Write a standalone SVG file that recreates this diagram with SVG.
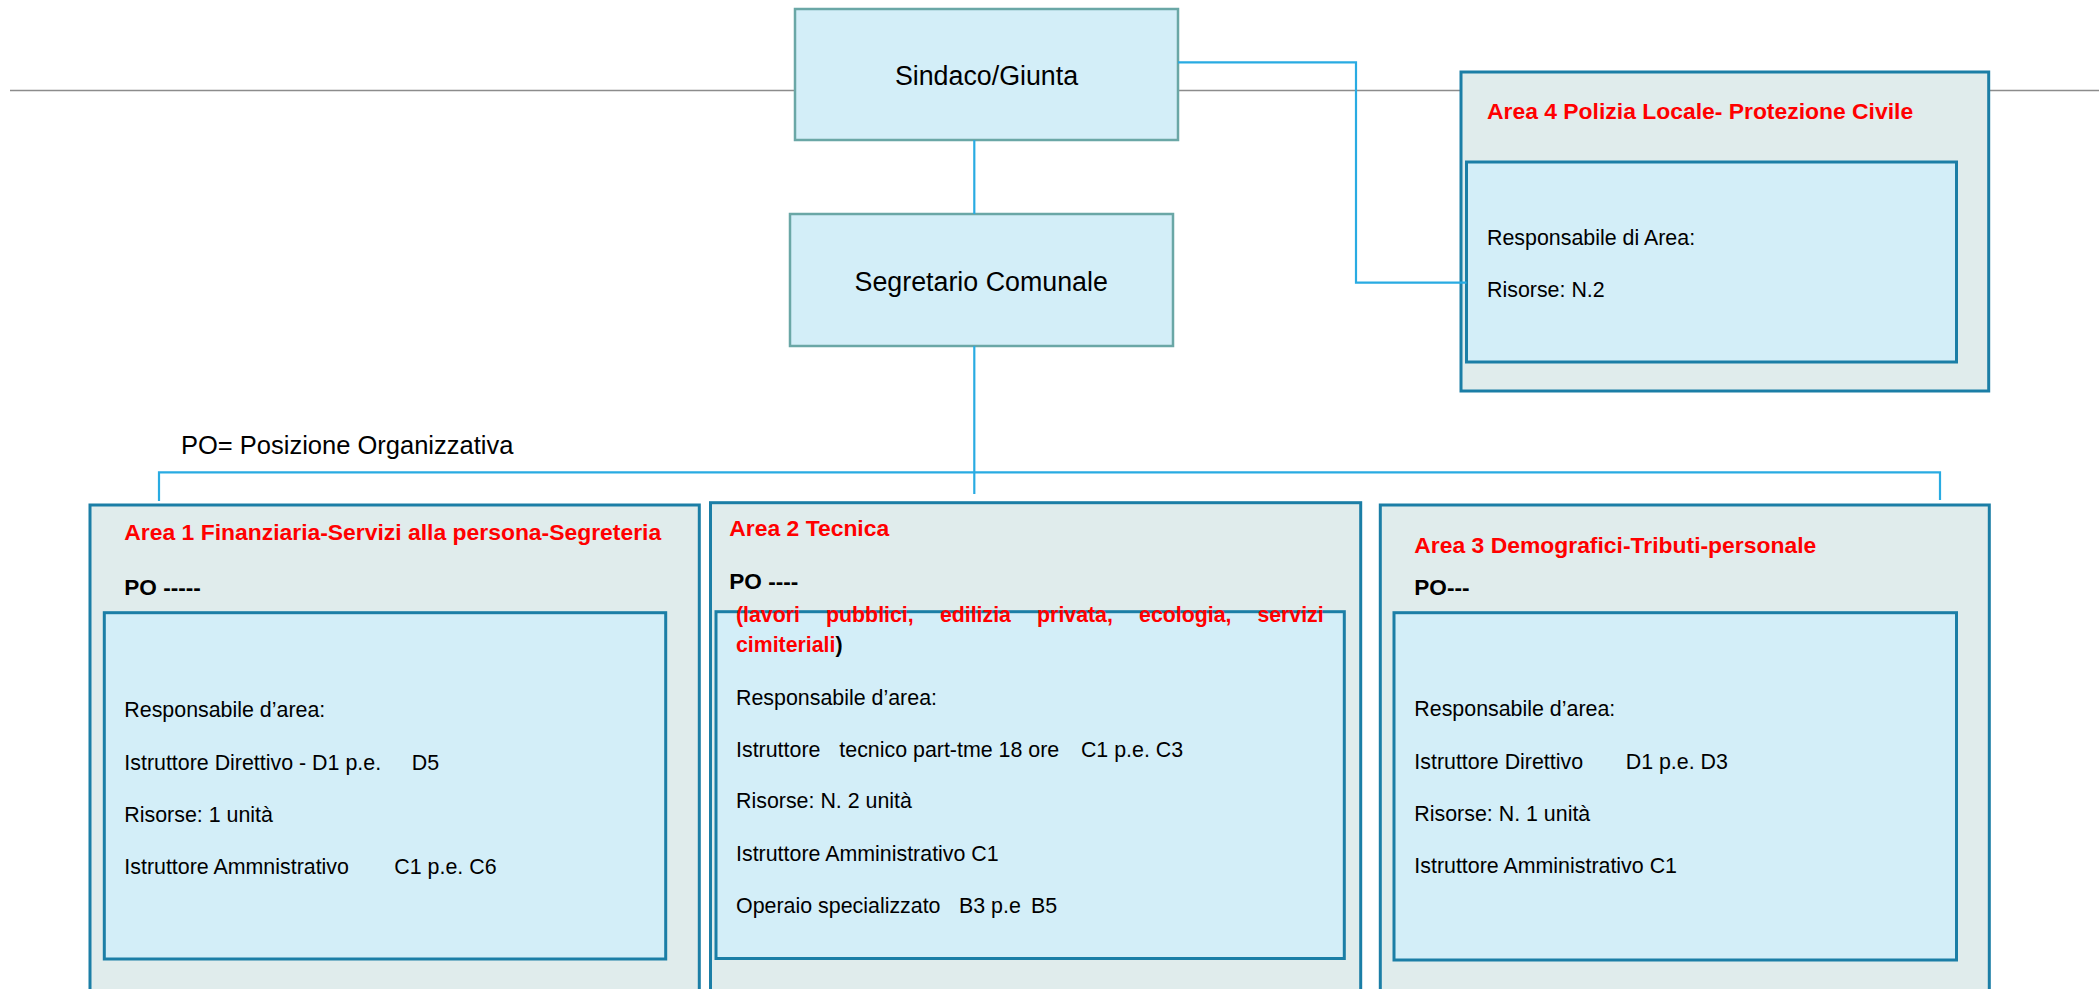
<svg xmlns="http://www.w3.org/2000/svg" width="2099" height="989" viewBox="0 0 2099 989">
<style>
text{font-family:"Liberation Sans",Arial,sans-serif;fill:#000}
.top{fill:#d3eef8;stroke:#6aa7a6;stroke-width:2.5}
.outer{fill:#e0ecec;stroke:#1b7ea6;stroke-width:3}
.inner{fill:#d3eef8;stroke:#1b7ea6;stroke-width:3}
.conn{fill:none;stroke:#29abe2;stroke-width:2.2}
.big{font-size:26.8px}
.title{font-size:22.9px;font-weight:bold;fill:#ff0000}
.po{font-size:22.6px;font-weight:bold}
.body{font-size:21.4px}
.red{font-size:21.3px;font-weight:bold;fill:#ff0000}
.blk{fill:#000}
</style>
<line x1="10" y1="90.5" x2="2099" y2="90.5" stroke="#8c8c8c" stroke-width="1.5"/>
<text x="181" y="454" style="font-size:25.5px">PO= Posizione Organizzativa</text>

<g id="sindaco">
<rect class="top" x="795" y="9" width="383" height="131"/>
<text class="big" x="986.5" y="85" text-anchor="middle">Sindaco/Giunta</text>
</g>
<g id="segretario">
<rect class="top" x="790" y="214" width="383" height="132"/>
<text class="big" x="981.2" y="291" text-anchor="middle">Segretario Comunale</text>
</g>

<g id="area4">
<rect class="outer" x="1461" y="72" width="527.7" height="319"/>
<rect class="inner" x="1466.5" y="162" width="490" height="200"/>
<text class="title" x="1487" y="119.3">Area 4 Polizia Locale- Protezione Civile</text>
<text class="body" x="1487" y="245">Responsabile di Area:</text>
<text class="body" x="1487" y="296.7">Risorse: N.2</text>
</g>

<g id="area1">
<rect class="outer" x="90" y="505" width="609.3" height="500"/>
<rect class="inner" x="104.3" y="612.7" width="561.4" height="346.3"/>
<text class="title" x="124.3" y="540">Area 1 Finanziaria-Servizi alla persona-Segreteria</text>
<text class="po" x="124.3" y="595">PO -----</text>
<text class="body" x="124.3" y="716.7">Responsabile d’area:</text>
<text class="body" y="770"><tspan x="124.3">Istruttore Direttivo - D1 p.e.</tspan><tspan x="411.7">D5</tspan></text>
<text class="body" x="124.3" y="821.7">Risorse: 1 unità</text>
<text class="body" y="874"><tspan x="124.3">Istruttore Ammnistrativo</tspan><tspan x="394.3">C1 p.e. C6</tspan></text>
</g>

<g id="area2">
<rect class="outer" x="710.5" y="502.7" width="650.2" height="500"/>
<rect class="inner" x="716" y="611.7" width="628.3" height="346.8"/>
<text class="title" x="729.3" y="536">Area 2 Tecnica</text>
<text class="po" x="729.3" y="589.3">PO ----</text>
<text class="red" y="621.7"><tspan x="736">(lavori</tspan><tspan x="826.1">pubblici,</tspan><tspan x="939.9">edilizia</tspan><tspan x="1037.1">privata,</tspan><tspan x="1139.1">ecologia,</tspan></text>
<text class="red" x="1323.7" y="621.7" text-anchor="end">servizi</text>
<text class="red" x="736" y="651.7">cimiteriali<tspan class="blk">)</tspan></text>
<text class="body" x="736" y="705">Responsabile d’area:</text>
<text class="body" y="756.7"><tspan x="736">Istruttore</tspan><tspan x="839.3">tecnico part-tme 18 ore</tspan><tspan x="1080.9">C1 p.e. C3</tspan></text>
<text class="body" x="736" y="808.3">Risorse: N. 2 unità</text>
<text class="body" x="736" y="860.7">Istruttore Amministrativo C1</text>
<text class="body" y="912.7"><tspan x="736">Operaio specializzato</tspan><tspan x="959">B3 p.e</tspan><tspan x="1031">B5</tspan></text>
</g>

<g id="area3">
<rect class="outer" x="1380.3" y="505" width="609" height="500"/>
<rect class="inner" x="1394" y="612.7" width="562.5" height="347.3"/>
<text class="title" x="1414.3" y="552.7">Area 3 Demografici-Tributi-personale</text>
<text class="po" x="1414.3" y="595">PO---</text>
<text class="body" x="1414.3" y="716">Responsabile d’area:</text>
<text class="body" y="769.3"><tspan x="1414.3">Istruttore Direttivo</tspan><tspan x="1625.7">D1 p.e. D3</tspan></text>
<text class="body" x="1414.3" y="821">Risorse: N. 1 unità</text>
<text class="body" x="1414.3" y="873.3">Istruttore Amministrativo C1</text>
</g>

<g id="connectors">
<path class="conn" d="M974.3 140 V214"/>
<path class="conn" d="M974.3 346 V494"/>
<path class="conn" d="M159 501 V472.3 H1940 V500"/>
<path class="conn" d="M1178 62.3 H1356 V282.7 H1466.5"/>
</g>
</svg>
